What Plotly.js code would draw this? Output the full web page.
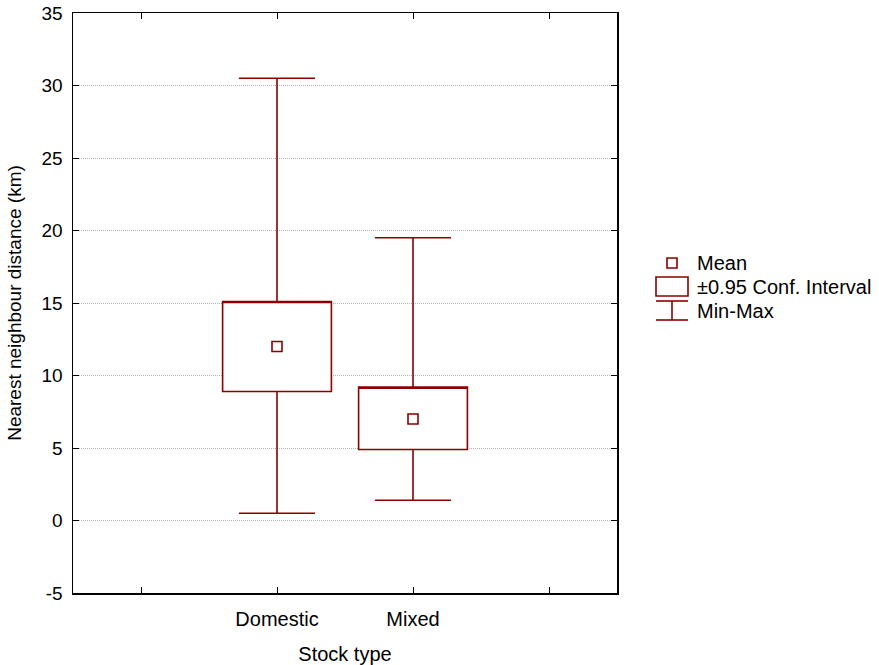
<!DOCTYPE html>
<html>
<head>
<meta charset="utf-8">
<script src="https://cdn.plot.ly/plotly-3.0.1.min.js"></script>
<style>html,body{margin:0;padding:0;background:#fff;}#chart{width:879px;height:665px;}</style>
</head>
<body>
<div id="chart"></div>
<script>
// Data
var categories = ["Domestic", "Mixed"];
var meanValues = [12.0, 7.0];
var ciLower = [8.9, 4.9];
var ciUpper = [15.1, 9.2];
var minValues = [0.5, 1.4];
var maxValues = [30.5, 19.5];
var tickValues = [0, 1, 2, 3];
var tickLabels = ["", "Domestic", "Mixed", ""];
var yTicks = [-5, 0, 5, 10, 15, 20, 25, 30, 35];
var yTickLabels = ["-5", "0", "5", "10", "15", "20", "25", "30", "35"];

var RED = "#8B0000";
var FONT = "Liberation Sans, Arial, sans-serif";
var xPos = categories.map(function (c, i) { return i + 1; });

var boxTrace = {
  type: "box",
  x: xPos,
  q1: ciLower,
  median: ciUpper,
  q3: ciUpper,
  lowerfence: minValues,
  upperfence: maxValues,
  width: 0.8,
  whiskerwidth: 0.7,
  fillcolor: "rgba(255,255,255,1)",
  line: { color: RED, width: 1.6 },
  boxpoints: false,
  showlegend: false,
  hoverinfo: "skip"
};

var meanTrace = {
  type: "scatter",
  mode: "markers",
  x: xPos,
  y: meanValues,
  marker: { symbol: "square-open", size: 10, color: RED, line: { color: RED, width: 1.6 } },
  showlegend: false,
  hoverinfo: "skip"
};

function px(v) { return (v - 73) / 544; }
function py(v) { return (593 - v) / 580; }

var shapes = [
  { type: "rect", xref: "paper", yref: "paper", x0: px(667), x1: px(677), y0: py(268), y1: py(258), line: { color: RED, width: 1.6 } },
  { type: "rect", xref: "paper", yref: "paper", x0: px(656), x1: px(688), y0: py(296), y1: py(277), line: { color: RED, width: 1.6 } },
  { type: "line", xref: "paper", yref: "paper", x0: px(656), x1: px(688), y0: py(301), y1: py(301), line: { color: RED, width: 1.6 } },
  { type: "line", xref: "paper", yref: "paper", x0: px(656), x1: px(688), y0: py(320), y1: py(320), line: { color: RED, width: 1.6 } },
  { type: "line", xref: "paper", yref: "paper", x0: px(672), x1: px(672), y0: py(301), y1: py(320), line: { color: RED, width: 1.6 } }
];

var legendFont = { family: FONT, size: 20, color: "#000" };
var annotations = [
  { xref: "paper", yref: "paper", x: px(695), y: py(263), text: "Mean", showarrow: false, xanchor: "left", yanchor: "middle", font: legendFont },
  { xref: "paper", yref: "paper", x: px(695), y: py(287), text: "±0.95 Conf. Interval", showarrow: false, xanchor: "left", yanchor: "middle", font: legendFont },
  { xref: "paper", yref: "paper", x: px(695), y: py(311), text: "Min-Max", showarrow: false, xanchor: "left", yanchor: "middle", font: legendFont }
];

var layout = {
  width: 879,
  height: 665,
  margin: { l: 73, r: 262, t: 13, b: 72 },
  paper_bgcolor: "#fff",
  plot_bgcolor: "#fff",
  font: { family: FONT, size: 19, color: "#000" },
  showlegend: false,
  xaxis: {
    range: [-0.5, 3.5],
    tickmode: "array",
    tickvals: tickValues,
    ticktext: tickLabels,
    ticks: "inside",
    ticklen: 6,
    tickcolor: "#000",
    showline: true,
    linecolor: "#000",
    linewidth: 1.5,
    mirror: "ticks",
    showgrid: false,
    zeroline: false,
    ticklabelstandoff: 7,
    tickfont: { family: FONT, size: 20 },
    title: { text: "Stock type", font: { family: FONT, size: 20 }, standoff: 20 }
  },
  yaxis: {
    range: [-5, 35],
    tickmode: "array",
    tickvals: yTicks,
    ticktext: yTickLabels,
    ticks: "inside",
    ticklen: 6,
    tickcolor: "#000",
    showline: true,
    linecolor: "#000",
    linewidth: 1.5,
    mirror: "ticks",
    showgrid: true,
    gridcolor: "#b4b4b4",
    griddash: "1px,1px",
    gridwidth: 1,
    zeroline: false,
    ticklabelstandoff: 5,
    tickfont: { family: FONT, size: 19 },
    title: { text: "Nearest neighbour distance (km)", font: { family: FONT, size: 19 }, standoff: 15 }
  },
  shapes: shapes,
  annotations: annotations
};

Plotly.newPlot("chart", [boxTrace, meanTrace], layout, { staticPlot: true, displayModeBar: false });
</script>
</body>
</html>
